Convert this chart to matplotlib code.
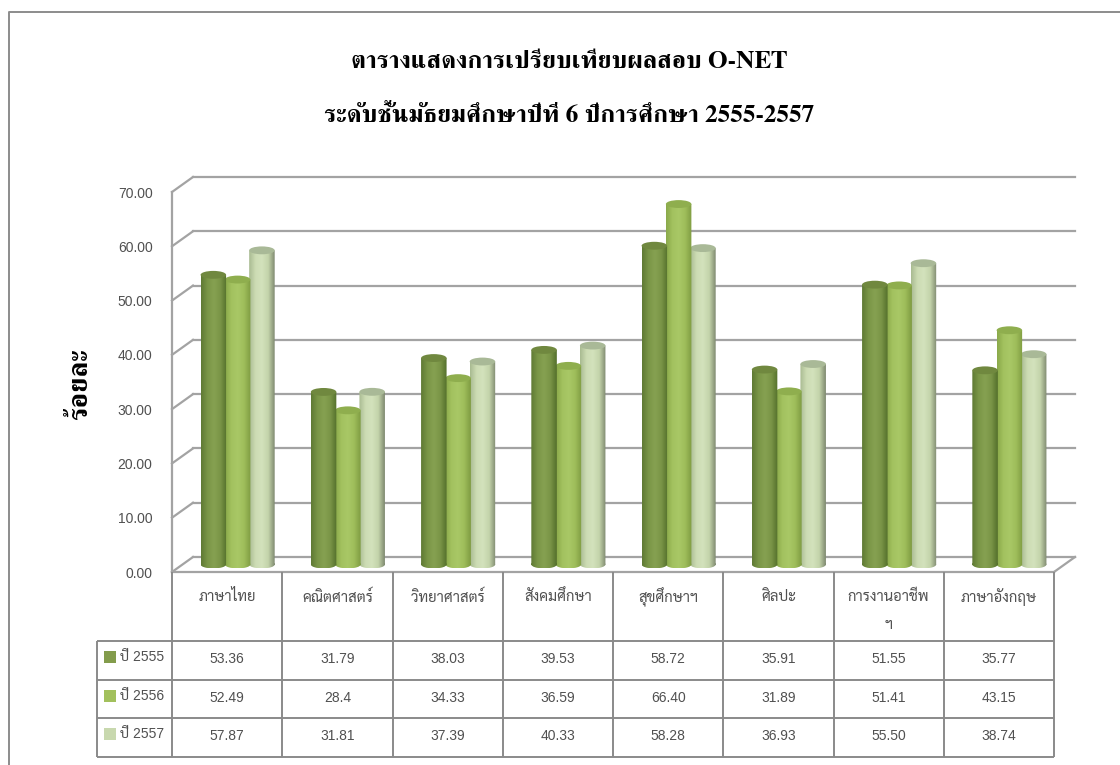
import numpy as np
import matplotlib
matplotlib.use('Agg')
import matplotlib.pyplot as plt
from matplotlib.colors import LinearSegmentedColormap
from matplotlib.lines import Line2D
from matplotlib.patches import Ellipse, Rectangle
from matplotlib.path import Path
from matplotlib.transforms import Affine2D

subjects = ['ภาษาไทย', 'คณิตศาสตร์', 'วิทยาศาสตร์', 'สังคมศึกษา', 'สุขศึกษาฯ', 'ศิลปะ', 'การงานอาชีพ\nฯ', 'ภาษาอังกฤษ']
years = ['ปี 2555', 'ปี 2556', 'ปี 2557']
# kept as strings, the table prints them the way the sheet had them (28.4 has one decimal)
y2555 = ['53.36', '31.79', '38.03', '39.53', '58.72', '35.91', '51.55', '35.77']
y2556 = ['52.49', '28.4', '34.33', '36.59', '66.40', '31.89', '51.41', '43.15']
y2557 = ['57.87', '31.81', '37.39', '40.33', '58.28', '36.93', '55.50', '38.74']
yticks = [0, 10, 20, 30, 40, 50, 60, 70]
title1 = 'ตารางแสดงการเปรียบเทียบผลสอบ O-NET'
title2 = 'ระดับชั้นมัธยมศึกษาปีที่ 6 ปีการศึกษา 2555-2557'
ylabel = 'ร้อยละ'

W, H = 1120, 765
GRAY = '#a3a3a3'
TABLE = '#8a8a8a'
TEXT = '#505050'
SANS = ['Liberation Sans', 'Sarabun', 'IBM Plex Sans Thai', 'FreeSans', 'DejaVu Sans']
SERIF = ['FreeSerif', 'DejaVu Serif']

series = [y2555, y2556, y2557]
swatch = ['#839c4c', '#a2c05c', '#c8d8ae']
ramps = [
    ['#5f7a34', '#7a9647', '#86a151', '#7a9547', '#54702c'],
    ['#8aa94a', '#a3c25f', '#a9c866', '#9ebd5a', '#7f9c42'],
    ['#a9bb92', '#cddcb4', '#d3e2bc', '#c3d3aa', '#7f8a70'],
]
caps = ['#70883f', '#8fae4e', '#a9b997']

fig = plt.figure(figsize=(W / 100, H / 100), dpi=100)


def fx(px):
    return px / W


def fy(py):
    return 1 - py / H


# outer frame of the sheet, only top and left are on the page
fig.add_artist(Line2D([fx(8.5), fx(8.5), fx(1120)], [fy(765), fy(12), fy(12)], color='#8c8c8c', lw=1.4))

fig.text(fx(569), fy(62), title1, family=SERIF, fontweight='bold', fontsize=18.2, ha='center', va='center', color='black')
fig.text(fx(569), fy(116), title2, family=SERIF, fontweight='bold', fontsize=18.2, ha='center', va='center', color='black')
fig.text(fx(81), fy(384), ylabel, family=SERIF, fontweight='bold', fontsize=20, rotation=90, ha='center', va='center', color='black')

ax = fig.add_axes([fx(172), fy(572), fx(882), 380 / H])
ax.patch.set_visible(False)

back = ax.transData + Affine2D().translate(21, 15)
mid = ax.transData + Affine2D().translate(10.5, 7.5)
unit_x = 21 / 110.25

# back wall and the left wall
for t in yticks:
    ax.plot([-0.5, 7.5], [t, t], color=GRAY, lw=1.6, transform=back, clip_on=False, zorder=1)
    ax.plot([-0.5, -0.5 + unit_x], [t, t + 15 / 380 * 70], color=GRAY, lw=1.6, clip_on=False, zorder=1)
ax.plot([7.5, 7.5 + unit_x], [0, 15 / 380 * 70], color=GRAY, lw=1.6, clip_on=False, zorder=1)

bar_w = 25.5 / 110.25
step = 24.3 / 110.25
cap_h = 1.45
for i in [2, 1, 0]:
    vals = np.array([float(v) for v in series[i]])
    cmap = LinearSegmentedColormap.from_list('bar%d' % i, ramps[i])
    grad = np.linspace(0, 1, 64)[None, :]
    for j, v in enumerate(vals):
        xc = j + (i - 1) * step
        x0, x1 = xc - bar_w / 2, xc + bar_w / 2
        rect = Path([(x0, 0), (x1, 0), (x1, v), (x0, v), (x0, 0)], closed=True)
        foot = Path.unit_circle().transformed(Affine2D().scale(bar_w / 2, cap_h / 2).translate(xc, 0))
        body = Path.make_compound_path(rect, foot)
        im = ax.imshow(grad, cmap=cmap, extent=(x0, x1, -cap_h / 2, v), aspect='auto',
                       interpolation='bilinear', transform=mid, zorder=3 + 2 - i)
        im.set_clip_path(body, transform=mid)
        ax.add_patch(Ellipse((xc, v), bar_w, cap_h, facecolor=caps[i], edgecolor='none',
                             transform=mid, clip_on=False, zorder=3 + 2 - i))

ax.set_xlim(-0.5, 7.5)
ax.set_ylim(0, 70)
ax.set_xticks([])
ax.set_yticks(yticks)
ax.set_yticklabels(['%.2f' % t for t in yticks], family=SANS, fontsize=10, color=TEXT)
ax.tick_params(axis='y', length=0, pad=14)
for side in ['top', 'right']:
    ax.spines[side].set_visible(False)
for side in ['left', 'bottom']:
    ax.spines[side].set_color(GRAY)
    ax.spines[side].set_linewidth(1.6)

# data table under the plot, y runs in rows from the top
row_y = [572, 641, 680, 718, 757]
tab = fig.add_axes([fx(172), fy(757), fx(882), 185 / H])
tab.axis('off')
tab.set_xlim(-0.5, 7.5)
tab.set_ylim(757, 572)
label_left = -0.5 - 75.5 / 110.25

tab.vlines(np.arange(-0.5, 8.5), row_y[0], row_y[-1], color=TABLE, lw=1.4, clip_on=False)
tab.vlines(label_left, row_y[1], row_y[-1], color=TABLE, lw=1.4, clip_on=False)
tab.hlines(row_y[1:], label_left, 7.5, color=TABLE, lw=1.4, clip_on=False)

for j, name in enumerate(subjects):
    parts = name.split('\n')
    for k, part in enumerate(parts):
        tab.text(j, 597 + 28 * k, part, family=SANS, fontsize=10.6, color=TEXT, ha='center', va='center')

for i, year in enumerate(years):
    yc = (row_y[i + 1] + row_y[i + 2]) / 2
    tab.add_patch(Rectangle((label_left + 7.5 / 110.25, yc - 9), 12 / 110.25, 12, facecolor=swatch[i],
                            edgecolor='none', clip_on=False))
    tab.text(label_left + 23.5 / 110.25, yc - 3, year, family=SANS, fontsize=10, color=TEXT, ha='left', va='center')
    for j, txt in enumerate(series[i]):
        tab.text(j, yc - 1, txt, family=SANS, fontsize=10, color=TEXT, ha='center', va='center')

fig.savefig('out.png', dpi=100)
